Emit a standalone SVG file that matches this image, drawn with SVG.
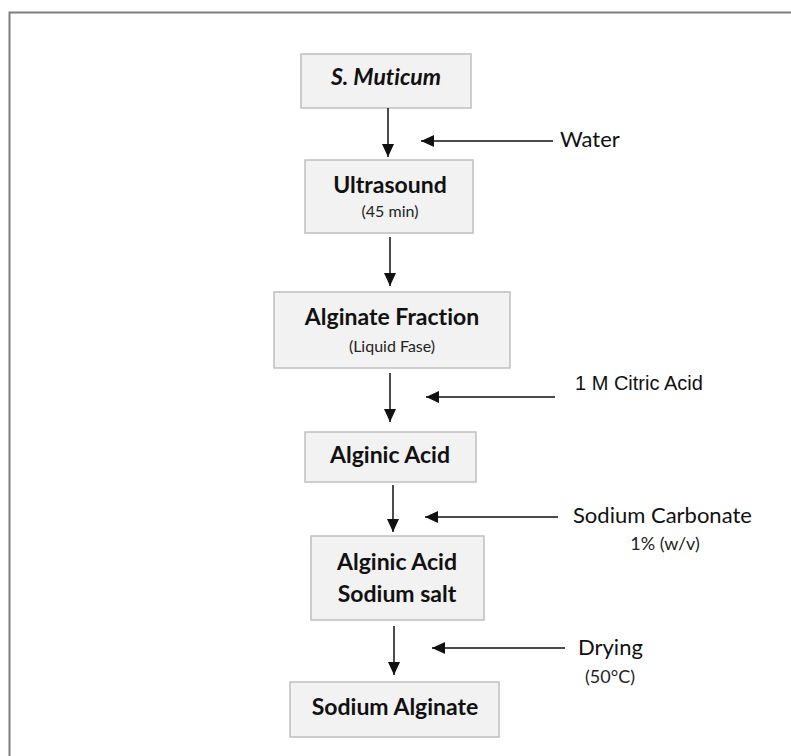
<svg xmlns="http://www.w3.org/2000/svg" width="791" height="756" viewBox="0 0 791 756">
  <style>
    text { font-variant-ligatures: none; }
    .box { fill: #f2f2f2; stroke: #bfbfbf; stroke-width: 1.5; }
    .lbl { font-family: Lato, "Open Sans", "Liberation Sans", sans-serif; font-weight: bold; font-size: 23px; fill: #111; text-anchor: middle; }
    .sub { font-family: Lato, "Open Sans", "Liberation Sans", sans-serif; font-size: 16px; fill: #222; text-anchor: middle; }
    .side { font-family: Lato, "Open Sans", "Liberation Sans", sans-serif; font-size: 22px; fill: #111; }
    .side2 { font-family: Lato, "Open Sans", "Liberation Sans", sans-serif; font-size: 18px; fill: #222; text-anchor: middle; }
    .cit { font-family: "Liberation Sans", Arial, sans-serif; font-size: 20px; fill: #111; }
    .conn { stroke: #111; stroke-width: 1.5; fill: none; marker-end: url(#ah); }
    .frame { stroke: #7f7f7f; stroke-width: 2; fill: none; }
  </style>
  <defs>
    <marker id="ah" viewBox="0 0 13 12" refX="13" refY="6" markerWidth="13" markerHeight="12" markerUnits="userSpaceOnUse" orient="auto">
      <path d="M0,0 L13,6 L0,12 z" fill="#111"/>
    </marker>
  </defs>
  <rect width="791" height="756" fill="#ffffff"/>
  <path class="frame" d="M9.5,756 L9.5,12.5 L791,12.5"/>

  <g id="n1">
    <rect class="box" x="301" y="54" width="170" height="54"/>
    <text class="lbl" x="386" y="85" font-style="italic" font-size="24">S. Muticum</text>
  </g>
  <g id="n2">
    <rect class="box" x="305" y="160" width="168" height="73"/>
    <text class="lbl" x="390" y="193">Ultrasound</text>
    <text class="sub" x="390" y="217" font-size="13">(45 min)</text>
  </g>
  <g id="n3">
    <rect class="box" x="274" y="292" width="236" height="76"/>
    <text class="lbl" x="392" y="325">Alginate Fraction</text>
    <text class="sub" x="392" y="352">(Liquid Fase)</text>
  </g>
  <g id="n4">
    <rect class="box" x="305" y="432" width="171" height="50"/>
    <text class="lbl" x="390" y="463">Alginic Acid</text>
  </g>
  <g id="n5">
    <rect class="box" x="311" y="536" width="173" height="84"/>
    <text class="lbl" x="397" y="570">Alginic Acid</text>
    <text class="lbl" x="397" y="602">Sodium salt</text>
  </g>
  <g id="n6">
    <rect class="box" x="290" y="682" width="209" height="55"/>
    <text class="lbl" x="395" y="715">Sodium Alginate</text>
  </g>

  <g id="inputs">
    <text class="side" x="560" y="147">Water</text>
    <text class="cit" x="575" y="390">1 M Citric Acid</text>
    <text class="side" x="573" y="523">Sodium Carbonate</text>
    <text class="side2" x="665" y="550">1% (w/v)</text>
    <text class="side" x="578" y="655">Drying</text>
    <text class="side2" x="610" y="683">(50°C)</text>
  </g>

  <g id="connectors">
    <line class="conn" x1="388" y1="108" x2="388" y2="157"/>
    <line class="conn" x1="390" y1="237" x2="390" y2="286"/>
    <line class="conn" x1="390" y1="373" x2="390" y2="422"/>
    <line class="conn" x1="393" y1="485" x2="393" y2="532"/>
    <line class="conn" x1="394" y1="626" x2="394" y2="675"/>
    <line class="conn" x1="553" y1="141" x2="421" y2="141"/>
    <line class="conn" x1="555" y1="397" x2="426" y2="397"/>
    <line class="conn" x1="558" y1="517" x2="425" y2="517"/>
    <line class="conn" x1="565" y1="648" x2="432" y2="648"/>
  </g>
</svg>
